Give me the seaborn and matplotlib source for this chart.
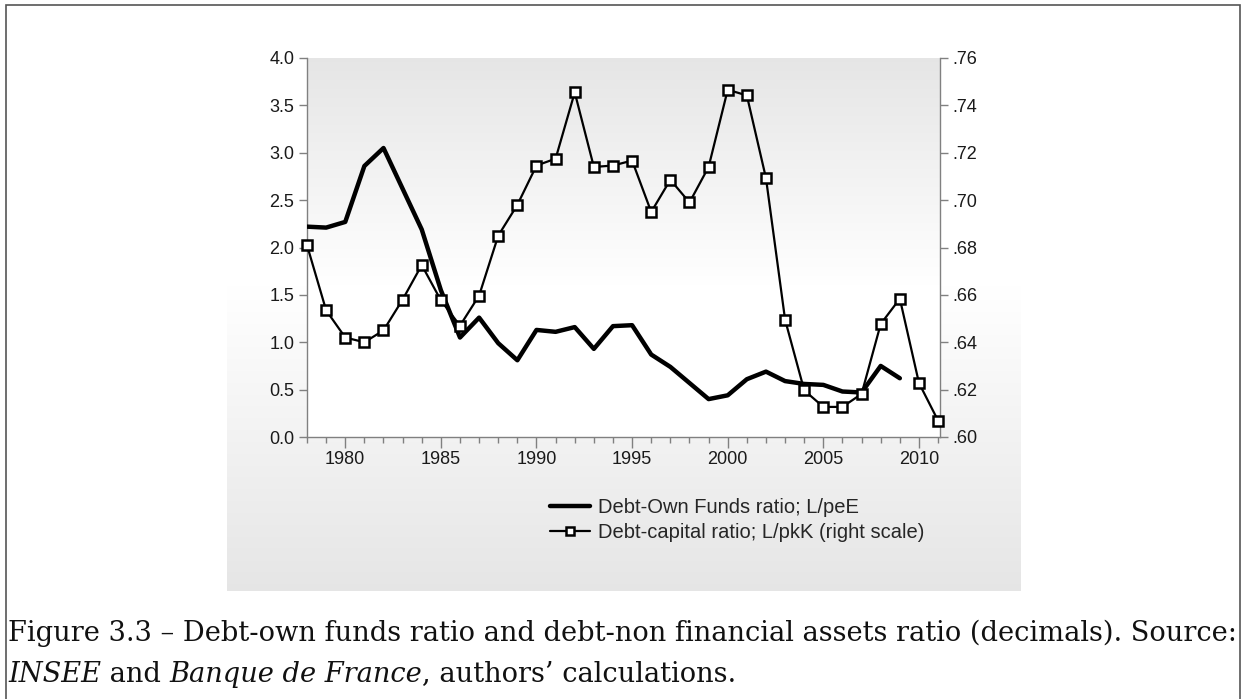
import numpy as np
import pandas as pd
import matplotlib
matplotlib.use('Agg')
import matplotlib.pyplot as plt
import seaborn as sns
from matplotlib.ticker import MultipleLocator, FuncFormatter
from matplotlib.patches import Rectangle

# data
years_peE = list(range(1978, 2010))
debt_own_funds = [2.22, 2.21, 2.27, 2.86, 3.05, 2.62, 2.19, 1.55, 1.05, 1.26,
                  0.99, 0.81, 1.13, 1.11, 1.16, 0.93, 1.17, 1.18, 0.87, 0.74,
                  0.57, 0.40, 0.44, 0.61, 0.69, 0.59, 0.56, 0.55, 0.48, 0.47,
                  0.75, 0.62]
years_pkK = list(range(1978, 2012))
debt_capital = [0.681, 0.6535, 0.642, 0.640, 0.645, 0.658, 0.6726, 0.6577, 0.647, 0.6597,
                0.685, 0.698, 0.7146, 0.7175, 0.7455, 0.714, 0.7146, 0.7167, 0.695, 0.7086,
                0.699, 0.714, 0.7466, 0.7442, 0.7093, 0.6495, 0.6197, 0.6127, 0.6127, 0.6182,
                0.6477, 0.6584, 0.6228, 0.6069]
labels = ['Debt-Own Funds ratio; L/peE', 'Debt-capital ratio; L/pkK (right scale)']
caption1 = 'Figure 3.3 – Debt-own funds ratio and debt-non financial assets ratio (decimals). Source:'
caption2 = [('INSEE', 'italic'), (' and ', 'normal'), ('Banque de France', 'italic'),
            (', authors’ calculations.', 'normal')]

df1 = pd.DataFrame({'year': years_peE, 'ratio': debt_own_funds})
df2 = pd.DataFrame({'year': years_pkK, 'ratio': debt_capital})

sns.set_theme(style='ticks')
plt.rcParams['font.family'] = ['Liberation Sans', 'DejaVu Sans']

W, H = 1243, 699
fig = plt.figure(figsize=(W / 100, H / 100), dpi=100)

def fx(px): return px / W
def fy(py): return 1 - py / H

# outer frame
fig.patches.append(Rectangle((fx(6), fy(720)), fx(1240) - fx(6), fy(5) - fy(720),
                             transform=fig.transFigure, fill=False, edgecolor='#555555',
                             lw=1.2, zorder=0))

# grey gradient panel behind the chart
bg = fig.add_axes([fx(227), fy(591), fx(1020) - fx(227), fy(40) - fy(591)], zorder=0)
t = np.linspace(0, 1, 256)[:, None]
shade = np.clip((t - 0.45) / 0.55, 0, 1)
grey = 1 - shade * (1 - 0.90)
bg.imshow(np.dstack([grey, grey, grey]), aspect='auto', extent=[0, 1, 0, 1])
bg.set_axis_off()

ax = fig.add_axes([fx(307), fy(437), fx(940) - fx(307), fy(58) - fy(437)], zorder=2)
ax.patch.set_alpha(0)
shade_in = np.clip(1 - t / 0.6, 0, 1)
grey_in = 1 - shade_in * (1 - 0.90)
ax.imshow(np.dstack([grey_in, grey_in, grey_in]), aspect='auto', extent=[0, 1, 0, 1],
          transform=ax.transAxes, zorder=0)

sns.lineplot(data=df1, x='year', y='ratio', ax=ax, color='black', lw=3.2,
             label=labels[0], legend=False, zorder=3)
ax2 = ax.twinx()
ax2.patch.set_alpha(0)
sns.lineplot(data=df2, x='year', y='ratio', ax=ax2, color='black', lw=1.6,
             marker='s', markersize=7, markerfacecolor='white', markeredgecolor='black',
             markeredgewidth=1.8, label=labels[1], legend=False, zorder=4, clip_on=False)

ax.set_xlim(1978, 2011.1)
ax.set_ylim(0, 4)
ax2.set_ylim(0.60, 0.76)
ax.xaxis.set_major_locator(MultipleLocator(5))
ax.xaxis.set_minor_locator(MultipleLocator(1))
ax.yaxis.set_major_locator(MultipleLocator(0.5))
ax.yaxis.set_major_formatter(FuncFormatter(lambda v, p: f'{v:.1f}'))
ax2.yaxis.set_major_locator(MultipleLocator(0.02))
ax2.yaxis.set_major_formatter(FuncFormatter(lambda v, p: f'{v:.2f}'.lstrip('0')))
for a in (ax, ax2):
    a.set_xlabel('')
    a.set_ylabel('')
    for s in a.spines.values():
        s.set_color('#808080')
        s.set_linewidth(1.0)
    a.spines['top'].set_visible(False)
    a.tick_params(which='major', length=6, width=1.0, color='#808080',
                  labelsize=13, labelcolor='#1a1a1a', pad=3)
    a.tick_params(which='minor', length=4, width=1.0, color='#808080')
ax.tick_params(axis='x', which='major', length=8, pad=2)
ax.spines['right'].set_visible(False)
ax2.spines['left'].set_visible(False)
ax2.spines['bottom'].set_visible(False)
ax2.spines['right'].set_visible(True)

handles = ax.get_lines()[:1] + [l for l in ax2.get_lines() if l.get_label() == labels[1]]
fig.legend(handles, labels, loc='upper left', bbox_to_anchor=(fx(550), fy(498)),
           bbox_transform=fig.transFigure, frameon=False, fontsize=14.5,
           handlelength=2.0, handletextpad=0.4, labelspacing=0.32, borderpad=0,
           borderaxespad=0, markerscale=0.75)

# caption, fitted to the frame width
fig.canvas.draw()
renderer = fig.canvas.get_renderer()
probe = fig.text(0, 0, caption1, family='DejaVu Serif', fontsize=20)
cap_size = 20 * 1229 / probe.get_window_extent(renderer).width
probe.remove()

fig.text(fx(8), fy(633), caption1, family='DejaVu Serif', fontsize=cap_size,
         va='center', ha='left', color='#111111')
x = fx(8)
for txt, style in caption2:
    tt = fig.text(x, fy(674), txt, family='DejaVu Serif', fontsize=cap_size, style=style,
                  va='center', ha='left', color='#111111')
    bb = tt.get_window_extent(renderer)
    x += bb.width / W

fig.savefig('out.png', dpi=100)
